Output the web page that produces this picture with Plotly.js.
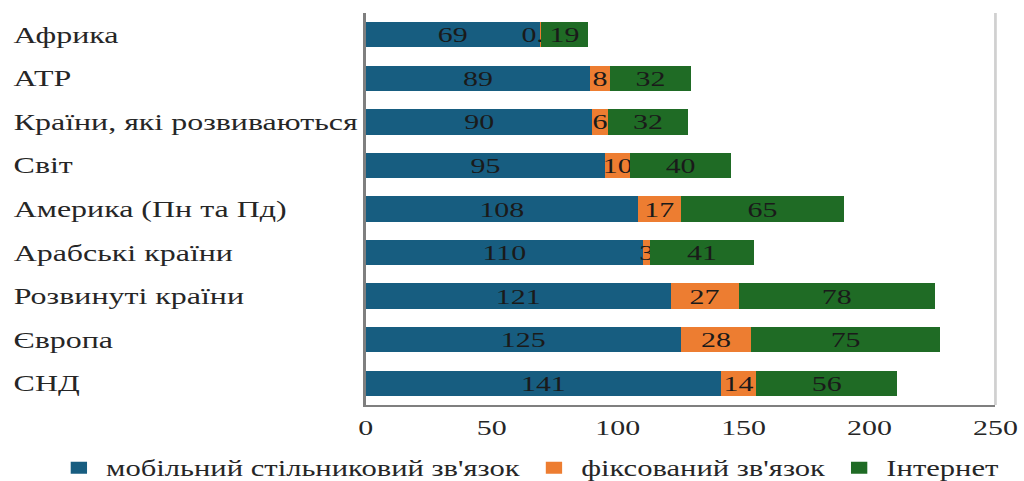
<!DOCTYPE html>
<html>
<head>
<meta charset="utf-8">
<script src="https://cdn.plot.ly/plotly-3.0.1.min.js"></script>
<style>
html,body{margin:0;padding:0;background:#fff;overflow:hidden;width:1024px;height:481px;}
#chart{width:753px;height:481px;transform:scaleX(1.35989);transform-origin:0 0;}
</style>
</head>
<body>
<div id="chart"></div>
<script>
const categories = ["Африка", "АТР", "Країни, які розвиваються", "Світ", "Америка (Пн та Пд)", "Арабські країни", "Розвинуті країни", "Європа", "СНД"];
const mobile = [69, 89, 90, 95, 108, 110, 121, 125, 141];
const fixed = [0.4, 8, 6, 10, 17, 3, 27, 28, 14];
const internet = [19, 32, 32, 40, 65, 41, 78, 75, 56];
const seriesNames = ["мобільний стільниковий зв'язок", "фіксований зв'язок", "Інтернет"];
const xTicks = [0, 50, 100, 150, 200, 250];

const FONT = "'Liberation Serif', 'Times New Roman', 'DejaVu Serif', serif";
const TEXT = "#262626";
const colors = ["#175d80", "#ed7d31", "#1f6b25"];
const series = [mobile, fixed, internet];

// unscaled geometry (page is stretched horizontally by CSS to 1024 px)
const W = 753, L = 269, R = 21, T = 13, B = 76, H = 481;
const PW = W - L - R, PH = H - T - B;

const traces = series.map((vals, i) => ({
  type: "bar",
  orientation: "h",
  name: seriesNames[i],
  y: categories,
  x: vals,
  marker: {color: colors[i]},
  text: vals.map(v => String(v)),
  textposition: "inside",
  insidetextanchor: "middle",
  textangle: 0,
  constraintext: "none",
  textfont: {family: FONT, size: 22, color: "#1a1a1a"},
  hoverinfo: "x+y"
}));

const annotations = categories.map(c => ({
  xref: "paper", yref: "y", x: (8 - L) / PW, y: c,
  xanchor: "left", yanchor: "middle", showarrow: false,
  text: c, font: {family: FONT, size: 23.5, color: TEXT}
}));

const layout = {
  width: W, height: H,
  margin: {l: L, r: R, t: T, b: B, autoexpand: false},
  paper_bgcolor: "#fff", plot_bgcolor: "#fff",
  barmode: "stack",
  bargap: 0.42,
  showlegend: true,
  legend: {
    orientation: "h", xref: "paper", yref: "paper",
    x: (38 - L) / PW, xanchor: "left", y: -(468 - (H - B)) / PH, yanchor: "middle",
    font: {family: FONT, size: 22.5, color: TEXT},
    traceorder: "normal", itemwidth: 30, bgcolor: "rgba(0,0,0,0)"
  },
  xaxis: {
    range: [0, 250], tickvals: xTicks, ticktext: xTicks.map(String),
    showgrid: false, zeroline: false,
    showline: true, linecolor: "#7f7f7f", linewidth: 2,
    ticks: "", ticklabelstandoff: 2,
    tickfont: {family: FONT, size: 22, color: TEXT}
  },
  yaxis: {
    autorange: "reversed", type: "category",
    showticklabels: false, showgrid: false, zeroline: false,
    showline: true, linecolor: "#7f7f7f", linewidth: 2
  },
  shapes: [{type: "line", xref: "paper", yref: "paper", x0: 1, x1: 1, y0: 0, y1: 1,
            line: {color: "#d0d0d0", width: 2}}],
  annotations: annotations
};

Plotly.newPlot("chart", traces, layout, {displayModeBar: false, staticPlot: true});
</script>
</body>
</html>
